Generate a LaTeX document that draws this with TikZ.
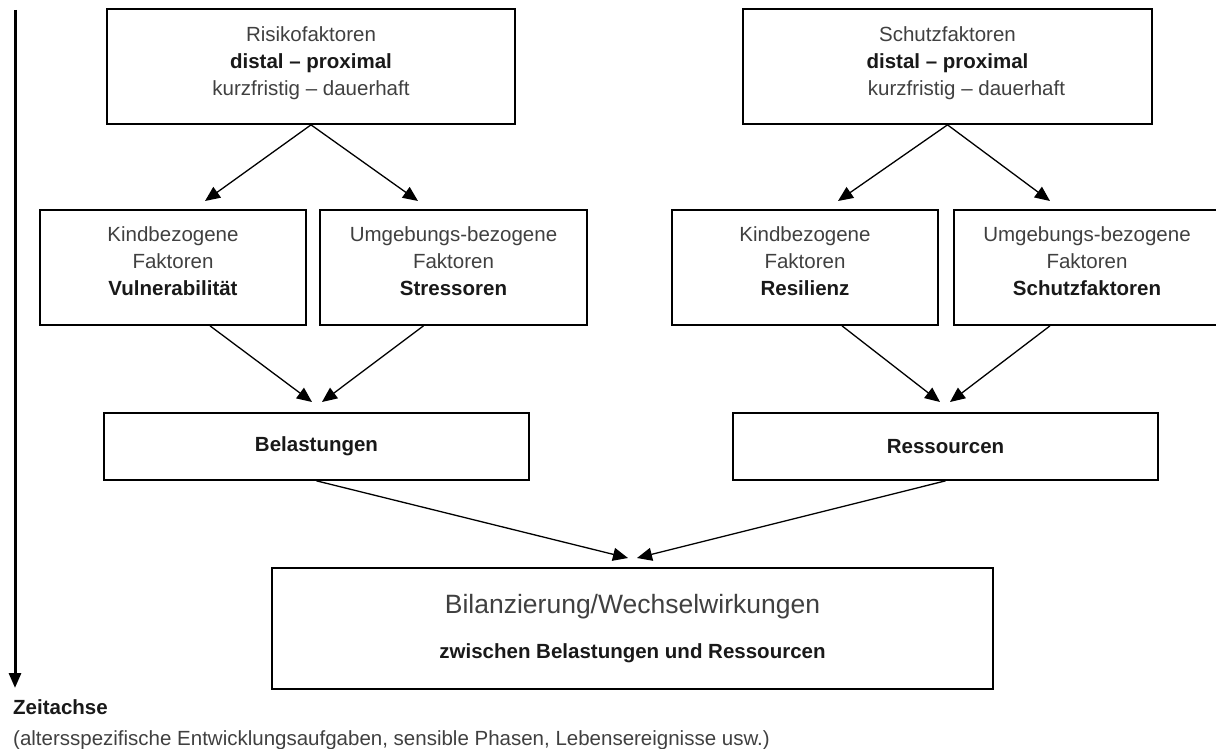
\documentclass[tikz,border=0pt]{standalone}
\usepackage{fontspec}
\setmainfont{Liberation Sans}
\usetikzlibrary{arrows.meta}
\definecolor{txtgray}{RGB}{64,64,64}
\newcommand{\fett}[1]{{\bfseries\color{black!90}#1}}
\tikzset{
  kasten/.style={draw, line width=1.7pt, align=center, inner sep=0pt,
    text=txtgray, font=\fontsize{20.5}{27}\selectfont},
  oben/.style={kasten, minimum width=408pt, minimum height=115pt, text depth=10pt},
  mitte/.style={kasten, minimum width=266pt, minimum height=115pt, text depth=12pt},
  unten/.style={kasten, minimum width=425pt, minimum height=67pt},
  pfeil/.style={line width=1.3pt, -{Triangle[length=15pt,width=13pt]}},
  zeitpfeil/.style={line width=3pt, -{Triangle[length=15pt,width=12pt]}}
}
\begin{document}
\begin{tikzpicture}[x=1pt,y=-1pt]
  \useasboundingbox (0,0) rectangle (1216,749);
  % Zeitachse
  \coordinate (zeit-start) at (15,10);
  \coordinate (zeit-ende) at (15,688);
  \draw[zeitpfeil] (zeit-start) -- (zeit-ende);
  \node[anchor=west, inner sep=0pt, font=\fontsize{20.5}{27}\selectfont] (zeitachse) at (13,707) {\fett{Zeitachse}};
  \node[anchor=west, inner sep=0pt, text=txtgray, font=\fontsize{20.5}{27}\selectfont] (aufgaben) at (13,740)
    {(altersspezifische Entwicklungsaufgaben, sensible Phasen, Lebensereignisse usw.)};

  % Risikoseite
  \node[oben] (risiko) at (311,66.5) {Risikofaktoren\\\fett{distal – proximal}\\kurzfristig – dauerhaft};
  \node[mitte] (kindL) at (173,267.5) {Kindbezogene\\Faktoren\\\fett{Vulnerabilität}};
  \node[mitte, minimum width=267pt] (umgL) at (453.5,267.5) {Umgebungs-bezogene\\Faktoren\\\fett{Stressoren}};
  \node[unten] (belast) at (316.5,446.5) {\fett{Belastungen}};

  % Schutzseite
  \node[oben, minimum width=409pt] (schutz) at (947.5,66.5) {Schutzfaktoren\\\fett{distal – proximal}\\\hspace*{38pt}kurzfristig – dauerhaft};
  \node[mitte] (kindR) at (805,267.5) {Kindbezogene\\Faktoren\\\fett{Resilienz}};
  \node[mitte] (umgR) at (1087,267.5) {Umgebungs-bezogene\\Faktoren\\\fett{Schutzfaktoren}};
  \node[unten] (ressourcen) at (945.5,446.5) {\fett{Ressourcen}};

  % Bilanz
  \node[kasten, minimum width=721pt, minimum height=121pt] (bilanz) at (632.5,628.5)
    {{\fontsize{26.5}{31}\selectfont Bilanzierung/Wechselwirkungen}\\[18pt]\fett{zwischen Belastungen und Ressourcen}};

  % Pfeilspitzen
  \coordinate (risiko-kind) at (205,201);
  \coordinate (risiko-umg) at (418,201);
  \coordinate (schutz-kind) at (838,201);
  \coordinate (schutz-umg) at (1050,201);
  \coordinate (belast-l) at (312,402);
  \coordinate (belast-r) at (322,402);
  \coordinate (ress-l) at (940,402);
  \coordinate (ress-r) at (950,402);
  \coordinate (bilanz-l) at (628,558);
  \coordinate (bilanz-r) at (637,558);

  \draw[pfeil] (risiko.south) -- (risiko-kind);
  \draw[pfeil] (risiko.south) -- (risiko-umg);
  \draw[pfeil] (schutz.south) -- (schutz-kind);
  \draw[pfeil] (schutz.south) -- (schutz-umg);
  \draw[pfeil] ([xshift=37pt]kindL.south) -- (belast-l);
  \draw[pfeil] ([xshift=-30pt]umgL.south) -- (belast-r);
  \draw[pfeil] ([xshift=37pt]kindR.south) -- (ress-l);
  \draw[pfeil] ([xshift=-37pt]umgR.south) -- (ress-r);
  \draw[pfeil] (belast.south) -- (bilanz-l);
  \draw[pfeil] (ressourcen.south) -- (bilanz-r);
\end{tikzpicture}
\end{document}
